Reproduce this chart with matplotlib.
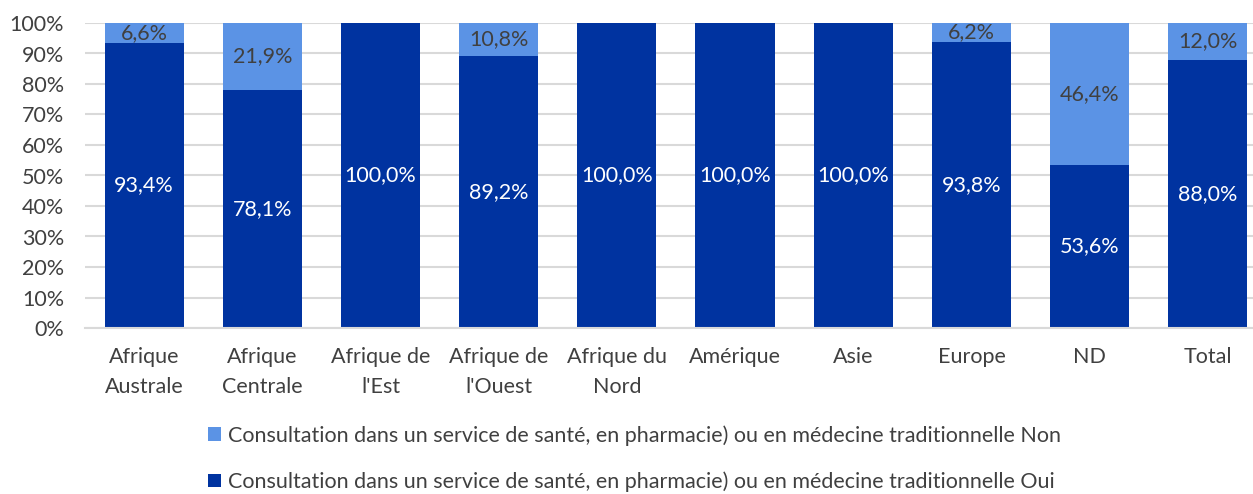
import numpy as np
import matplotlib
matplotlib.use("Agg")
import matplotlib.pyplot as plt

plt.rcParams["font.family"] = ["Lato", "DejaVu Sans"]

categories = ["Afrique\nAustrale", "Afrique\nCentrale", "Afrique de\nl'Est", "Afrique de\nl'Ouest",
              "Afrique du\nNord", "Amérique", "Asie", "Europe", "ND", "Total"]
oui = [93.4, 78.1, 100.0, 89.2, 100.0, 100.0, 100.0, 93.8, 53.6, 88.0]
non = [6.6, 21.9, 0.0, 10.8, 0.0, 0.0, 0.0, 6.2, 46.4, 12.0]
label_non = "Consultation dans un service de santé, en pharmacie) ou en médecine traditionnelle Non"
label_oui = "Consultation dans un service de santé, en pharmacie) ou en médecine traditionnelle Oui"

DARK = "#0033A0"
LIGHT = "#5B93E5"
TXT = "#404040"
FS = 15.5

fig = plt.figure(figsize=(12.53, 4.94), dpi=100)
ax = fig.add_axes([85 / 1253, 1 - 328 / 494, 1 - 85 / 1253, 305 / 494])

x = np.arange(len(categories))
w = 0.67
b_oui = ax.bar(x, oui, w, color=DARK, zorder=2)
b_non = ax.bar(x, non, w, bottom=oui, color=LIGHT, zorder=2)

fmt = lambda v: f"{v:.1f}%".replace(".", ",")
for i in range(len(x)):
    ax.text(x[i], oui[i] / 2, fmt(oui[i]), ha="center", va="center",
            color="white", fontsize=FS, zorder=3)
    if non[i] > 0:
        ax.text(x[i], oui[i] + non[i] / 2, fmt(non[i]), ha="center", va="center",
                color=TXT, fontsize=FS, zorder=3)

ax.set_ylim(0, 100)
ax.set_xlim(-0.5, 9.5 - 14 / 118.3)
ax.set_yticks(np.arange(0, 101, 10))
ax.set_yticklabels([f"{t}%" for t in range(0, 101, 10)])
ax.set_xticks(x)
ax.set_xticklabels(categories, linespacing=1.6)
ax.tick_params(axis="both", length=0, labelsize=FS, labelcolor=TXT)
ax.tick_params(axis="x", pad=14)
ax.tick_params(axis="y", pad=15)
ax.grid(axis="y", color="#D9D9D9", linewidth=1.5, zorder=0)
for s in ["top", "right", "left"]:
    ax.spines[s].set_visible(False)
ax.spines["bottom"].set_color("#D9D9D9")
ax.spines["bottom"].set_linewidth(1.5)

fig.legend([b_non, b_oui], [label_non, label_oui], loc="upper left",
           bbox_to_anchor=(208 / 1253, 1 - 425 / 494), frameon=False, fontsize=FS,
           labelcolor=TXT, handlelength=0.6, handleheight=0.6, handletextpad=0.35,
           labelspacing=1.2, borderpad=0, borderaxespad=0)

fig.savefig("out.png", dpi=100)
